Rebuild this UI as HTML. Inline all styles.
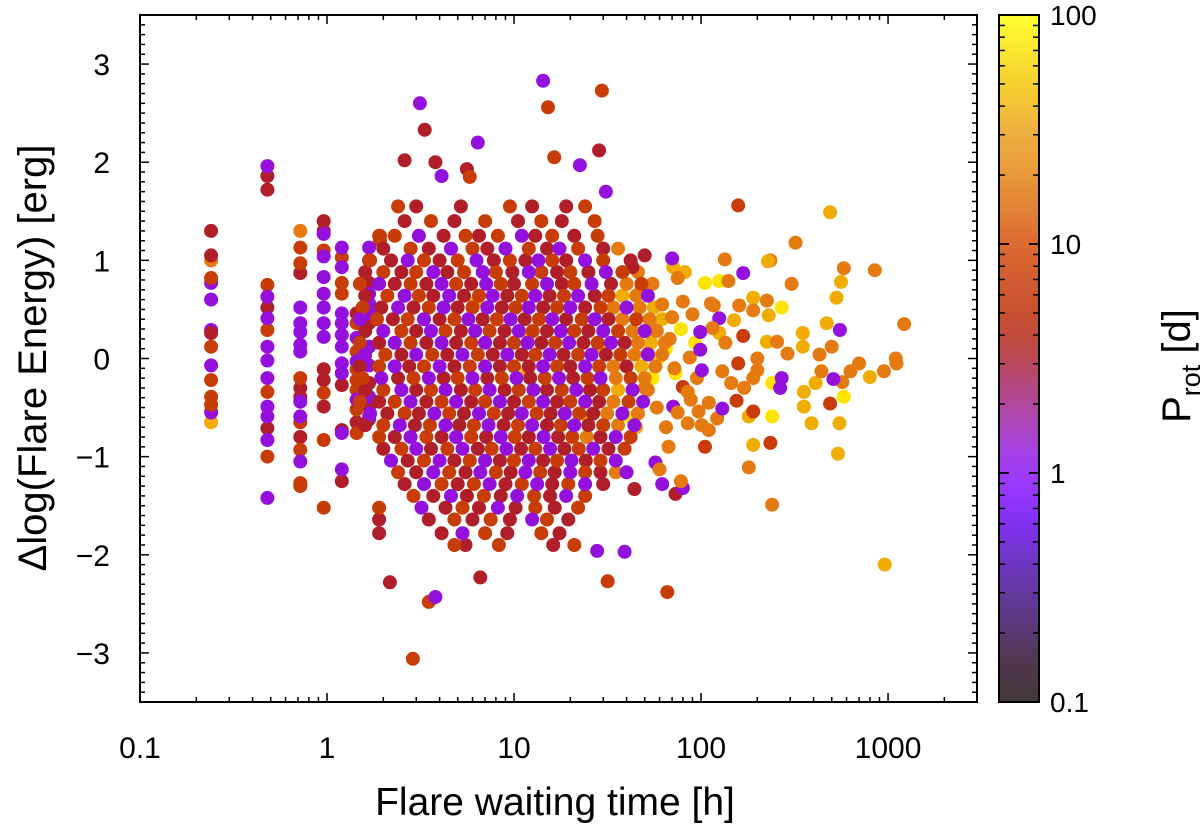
<!DOCTYPE html>
<html><head><meta charset="utf-8"><title>Flare waiting time vs Δlog energy</title>
<style>
html,body{margin:0;padding:0;background:#fff;}
svg{display:block;font-family:"Liberation Sans",sans-serif;}
</style></head>
<body>
<svg id="chart" width="1200" height="830" viewBox="0 0 1200 830" xmlns="http://www.w3.org/2000/svg">
<defs>
<linearGradient id="cbgrad" x1="0" y1="1" x2="0" y2="0">
<stop offset="0" stop-color="#443838"/>
<stop offset="0.06" stop-color="#503850"/>
<stop offset="0.18" stop-color="#6838b0"/>
<stop offset="0.26" stop-color="#8030f0"/>
<stop offset="0.31" stop-color="#9838ff"/>
<stop offset="0.36" stop-color="#a440e8"/>
<stop offset="0.43" stop-color="#b048a0"/>
<stop offset="0.49" stop-color="#b84860"/>
<stop offset="0.53" stop-color="#c04c3c"/>
<stop offset="0.57" stop-color="#c85030"/>
<stop offset="0.667" stop-color="#dc6a32"/>
<stop offset="0.77" stop-color="#e89a3a"/>
<stop offset="0.83" stop-color="#eeb040"/>
<stop offset="0.9" stop-color="#f5d030"/>
<stop offset="1" stop-color="#ffff30"/>
</linearGradient>
</defs>
<g id="points"></g>
<g id="axes"></g>
<rect x="999" y="15" width="40" height="687" fill="url(#cbgrad)" stroke="#000" stroke-width="2"/>
<g id="cbaxis"></g>
<text x="555" y="815" font-size="39" text-anchor="middle">Flare waiting time [h]</text>
<text transform="translate(46,358) rotate(-90)" font-size="40" text-anchor="middle">Δlog(Flare Energy) [erg]</text>
<text transform="translate(1190,366) rotate(-90)" font-size="40" text-anchor="middle">P<tspan font-size="27" dy="10">rot</tspan><tspan dy="-10"> [d]</tspan></text>
</svg>
<script>
// ---- data (x = waiting time [h], y = Δlog E) ----
const xTicks = [0.1, 1, 10, 100, 1000];
const xTickLabels = ["0.1", "1", "10", "100", "1000"];
const yTicks = [-3, -2, -1, 0, 1, 2, 3];
const yTickLabels = ["\u22123", "\u22122", "\u22121", "0", "1", "2", "3"];
const cbTicks = [0.1, 1, 10, 100];
const cbTickLabels = ["0.1", "1", "10", "100"];
const classPeriods = [0.8, 3, 6, 15, 35, 80];

const purplePts = [[0.24,0.77],[0.24,0.6],[0.24,0.29],[0.24,-0.07],[0.24,-0.55],
[0.48,1.96],[0.48,0.63],[0.48,0.41],[0.48,0.12],[0.48,-0.02],[0.48,-0.2],[0.48,-0.49],[0.48,-0.59],[0.48,-0.83],[0.48,-1.42],
[0.72,0.52],[0.72,0.36],[0.72,0.27],[0.72,0.14],[0.72,0.07],[0.72,-0.44],[0.72,-0.59],[0.72,-1.05],
[0.96,1.27],[0.96,1.04],[0.96,0.83],[0.96,0.66],[0.96,0.52],[0.96,0.36],[0.96,0.22],
[1.2,1.13],[1.2,0.93],[1.2,0.46],[1.2,0.36],[1.2,0.24],[1.2,0.12],[1.2,-0.05],[1.2,-0.15],[1.2,-0.76],[1.2,-1.13],
[1.44,0.21],[1.44,-0.03],[1.44,-0.42],
[1.68,1.13],[1.68,0.66],[1.68,0.56],[1.68,0.46],[1.68,0.12],[1.68,-0.07],[1.68,-0.39],[1.68,-0.59],
[3.14,2.6],[4.1,1.86],[6.4,2.2],[14.3,2.83],[22.5,1.97],[31,1.7],[3.8,-2.43],[27.8,-1.96],[168,0.87],[553,0.29],[125,0.41],[510,-0.21],[270,-0.2],[265,-0.3],[130,-0.51],[70,1.02],[99,0.27],[99,0.09],[101,-0.12],[71,-0.49],[80,-1.32],[62,-1.28],[57,-1.06],[40,-1.16],[39,-1.97],
[3.1,1.25],[11,1.25],[4.6,1.12],[9.0,1.12],[17.5,1.12],[2.7,1.0],[6.3,1.0],[13.5,1.0],[24,1.0],
[3.7,0.88],[6.8,0.88],[12,0.88],[31,0.88],[1.9,0.76],[4.1,0.76],[7.1,0.76],[15,0.76],[26,0.76],
[2.6,0.64],[4.5,0.64],[7.7,0.64],[13,0.64],[22,0.64],[52,0.64],[2.4,0.52],[4.2,0.52],[7.2,0.52],[12,0.52],[20,0.52],[40,0.52],
[1.5,0.4],[3.3,0.4],[5.7,0.4],[9.6,0.4],[16,0.4],[27,0.4],[2.0,0.28],[3.6,0.28],[6.2,0.28],[10.6,0.28],[17.8,0.28],[30,0.28],[50,0.28],
[2.3,0.16],[4.1,0.16],[7.0,0.16],[11.8,0.16],[19.7,0.16],[33,0.16],[1.6,0.04],[3.0,0.04],[5.3,0.04],[9.2,0.04],[15.5,0.04],[26,0.04],[52,0.04],
[2.3,-0.08],[4.0,-0.08],[7.0,-0.08],[14.3,-0.08],[24,-0.08],[1.95,-0.2],[3.5,-0.2],[6.0,-0.2],[10.3,-0.2],[17.4,-0.2],[29,-0.2],
[2.5,-0.32],[4.3,-0.32],[7.4,-0.32],[12.7,-0.32],[21.5,-0.32],[43,-0.32],[2.8,-0.44],[4.9,-0.44],[8.4,-0.44],[14.3,-0.44],[24,-0.44],[49,-0.44],
[1.7,-0.56],[3.75,-0.56],[6.5,-0.56],[11,-0.56],[18.7,-0.56],[38,-0.56],[2.45,-0.68],[4.3,-0.68],[7.3,-0.68],[12.5,-0.68],[21,-0.68],[44,-0.68],
[2.8,-0.8],[4.9,-0.8],[8.5,-0.8],[14.4,-0.8],[35,-0.8],[3.0,-0.92],[5.3,-0.92],[9.1,-0.92],[15.6,-0.92],[26.5,-0.92],
[2.2,-1.04],[4.0,-1.04],[7.0,-1.04],[12,-1.04],[20.3,-1.04],[35,-1.04],[3.7,-1.16],[6.6,-1.16],[11.5,-1.16],[20,-1.16],
[3.3,-1.28],[7.4,-1.28],[13.3,-1.28],[24,-1.28],[4.6,-1.4],[10.4,-1.4],[19,-1.4],[3.2,-1.52],[8.2,-1.52],[12.5,-1.64],[5.3,-1.78]];

const crimsonPts = [[0.24,1.3],[0.24,1.05],[0.24,0.26],[0.48,1.86],[0.48,1.72],[0.48,0.52],[0.48,-0.71],[0.72,0.87],[0.72,-0.3],[0.72,-0.39],[0.72,-0.8],
[0.96,1.4],[0.96,1.3],[0.96,-0.11],[0.96,-0.22],[0.96,-0.49],[1.2,-0.27],[1.2,-0.73],[1.2,-1.25],[1.44,0.46],[1.44,-0.65],
[1.68,1.0],[1.68,0.77],[1.68,0.36],[1.68,-0.25],[1.68,-0.49],[1.68,-0.62],
[2.17,-2.28],[6.6,-2.23],[3.33,2.33],[2.6,2.02],[3.8,2.0],[5.6,1.93],[28.5,2.12],[73,-1.38],[44,-1.33],[50,1.05],[43,0.93],
[3.0,1.55],[5.2,1.55],[12.5,1.55],[19,1.55],[2.6,1.4],[4.8,1.4],[10.5,1.4],[18,1.4],[4.2,1.25],[6.5,1.25],[13,1.25],[21,1.25],
[2.0,1.12],[3.5,1.12],[7.2,1.12],[15,1.12],[30,1.12],[2.2,1.0],[4.0,1.0],[7.8,1.0],[11.5,1.0],[19,1.0],[42,1.0],
[1.6,0.88],[2.5,0.88],[4.4,0.88],[9.8,0.88],[17,0.88],[25,0.88],[2.3,0.76],[3.4,0.76],[5.9,0.76],[10,0.76],[18,0.76],[33,0.76],
[1.6,0.64],[3.7,0.64],[5.4,0.64],[9.2,0.64],[15.5,0.64],[27,0.64],[1.95,0.52],[2.9,0.52],[5.0,0.52],[8.6,0.52],[14.3,0.52],[24,0.52],
[2.25,0.4],[4.0,0.4],[6.8,0.4],[11.4,0.4],[19,0.4],[32,0.4],[1.6,0.28],[3.0,0.28],[5.2,0.28],[8.9,0.28],[15,0.28],[25,0.28],
[1.9,0.16],[3.4,0.16],[4.9,0.16],[8.4,0.16],[14,0.16],[23.5,0.16],[39,0.16],[2.5,0.04],[4.4,0.04],[7.7,0.04],[11,0.04],[18.4,0.04],[31,0.04],
[1.5,-0.08],[2.75,-0.08],[4.8,-0.08],[8.4,-0.08],[12,-0.08],[20,-0.08],[40,-0.08],[2.4,-0.2],[4.2,-0.2],[7.2,-0.2],[12.2,-0.2],[20.7,-0.2],
[1.6,-0.32],[3.0,-0.32],[5.2,-0.32],[8.9,-0.32],[15,-0.32],[25.5,-0.32],[1.9,-0.44],[3.4,-0.44],[5.9,-0.44],[10,-0.44],[17,-0.44],[28.5,-0.44],
[2.1,-0.56],[3.1,-0.56],[5.4,-0.56],[9.3,-0.56],[15.7,-0.56],[26.5,-0.56],[1.6,-0.68],[2.95,-0.68],[5.1,-0.68],[8.8,-0.68],[15,-0.68],[25,-0.68],
[2.3,-0.8],[4.1,-0.8],[7.1,-0.8],[12,-0.8],[17.2,-0.8],[29,-0.8],[2.0,-0.92],[3.6,-0.92],[6.4,-0.92],[10.9,-0.92],[18.6,-0.92],[32,-0.92],
[2.7,-1.04],[4.8,-1.04],[8.4,-1.04],[14.3,-1.04],[24.2,-1.04],[3.0,-1.16],[5.5,-1.16],[9.6,-1.16],[16.5,-1.16],[29,-1.16],
[2.6,-1.28],[5.0,-1.28],[9.0,-1.28],[16,-1.28],[30,-1.28],[3.7,-1.4],[5.6,-1.4],[8.5,-1.4],[15.6,-1.4],[4.3,-1.52],[6.5,-1.52],[10.2,-1.52],[16.5,-1.52],
[1.9,-1.64],[3.5,-1.64],[6.0,-1.64],[9.5,-1.64],[19.5,-1.64],[1.9,-1.78],[4.1,-1.78],[9.2,-1.78],[17.5,-1.78],[5.5,-1.9],[16.2,-1.9]];

const redPts = [[0.24,0.82],[0.24,0.12],[0.24,-0.22],[0.24,-0.39],[0.24,-0.47],[0.48,0.75],[0.48,0.29],[0.48,-0.34],[0.48,-1.0],
[0.72,1.13],[0.72,0.97],[0.72,-0.2],[0.72,-0.65],[0.72,-0.93],[0.72,-1.27],[0.72,-1.3],[0.96,1.1],[0.96,-0.35],[0.96,-0.83],[0.96,-1.52],
[1.2,1.03],[1.2,0.77],[1.2,0.66],[1.44,0.36],[1.44,0.07],[1.44,-0.11],[1.44,-0.22],[1.44,-0.32],[1.44,-0.52],[1.44,-0.76],[1.92,1.2],[1.92,1.25],
[2.88,-3.06],[3.5,-2.48],[31.7,-2.27],[66,-2.38],[15.2,2.56],[29.5,2.73],[16.4,2.05],[5.8,1.85],[158,1.56],[168,0.23],[490,-0.46],[158,-0.05],[155,-0.43],[190,-0.54],[235,-0.86],[105,-0.9],[80,-0.29],
[2.4,1.55],[9.5,1.55],[24,1.55],[3.6,1.4],[7.0,1.4],[14,1.4],[27,1.4],[1.9,1.25],[2.3,1.25],[5.5,1.25],[8.2,1.25],[16,1.25],[28,1.25],
[2.8,1.12],[6.0,1.12],[12,1.12],[22,1.12],[1.7,1.0],[3.3,1.0],[5.0,1.0],[9.5,1.0],[16,1.0],[30,1.0],
[2.0,0.88],[3.0,0.88],[5.4,0.88],[8.0,0.88],[14,0.88],[20,0.88],[38,0.88],[1.5,0.76],[2.8,0.76],[4.9,0.76],[8.5,0.76],[12.5,0.76],[21,0.76],[48,0.76],
[2.1,0.64],[3.1,0.64],[6.5,0.64],[11,0.64],[18.5,0.64],[32,0.64],[1.55,0.52],[3.5,0.52],[6.0,0.52],[10.2,0.52],[17,0.52],[29,0.52],
[1.85,0.4],[2.7,0.4],[4.8,0.4],[8.1,0.4],[13.6,0.4],[23,0.4],[45,0.4],[2.5,0.28],[4.3,0.28],[7.4,0.28],[12.6,0.28],[21,0.28],[36,0.28],
[1.5,0.16],[2.8,0.16],[5.9,0.16],[10,0.16],[16.6,0.16],[28,0.16],[2.05,0.04],[3.65,0.04],[6.4,0.04],[13,0.04],[22,0.04],[37,0.04],
[1.9,-0.08],[3.3,-0.08],[5.8,-0.08],[10,-0.08],[17,-0.08],[28.5,-0.08],[1.55,-0.2],[2.9,-0.2],[5.0,-0.2],[8.6,-0.2],[14.6,-0.2],[24.7,-0.2],[42,-0.2],
[2.0,-0.32],[3.6,-0.32],[6.2,-0.32],[10.6,-0.32],[18,-0.32],[30,-0.32],[1.5,-0.44],[2.3,-0.44],[4.1,-0.44],[7.0,-0.44],[12,-0.44],[20,-0.44],[41,-0.44],
[2.6,-0.56],[4.5,-0.56],[7.8,-0.56],[13.2,-0.56],[22.3,-0.56],[2.0,-0.68],[3.55,-0.68],[6.1,-0.68],[10.5,-0.68],[17.8,-0.68],[30,-0.68],
[1.9,-0.8],[3.4,-0.8],[5.9,-0.8],[10.1,-0.8],[20.5,-0.8],[42,-0.8],[2.5,-0.92],[4.4,-0.92],[7.6,-0.92],[13,-0.92],[22.2,-0.92],[39,-0.92],
[3.3,-1.04],[5.8,-1.04],[10,-1.04],[17,-1.04],[29,-1.04],[2.4,-1.16],[4.5,-1.16],[8.0,-1.16],[13.8,-1.16],[24,-1.16],
[4.1,-1.28],[6.1,-1.28],[11,-1.28],[19.5,-1.28],[2.9,-1.4],[6.9,-1.4],[12.8,-1.4],[24,-1.4],[1.9,-1.52],[5.3,-1.52],[13,-1.52],[22,-1.52],
[4.8,-1.64],[7.5,-1.64],[15,-1.64],[7.0,-1.78],[14,-1.78],[4.8,-1.9],[8.3,-1.9],[21,-1.9]];

const orangePts = [[0.24,1.0],[0.72,1.3],[36,1.12],[46,0.88],[40,0.76],[55,0.76],[45,0.64],[34,0.52],[47,0.52],[38,0.4],[53,0.4],[43,0.28],[58,0.28],
[46,0.16],[64,0.16],[44,0.04],[62,0.04],[34,-0.08],[57,-0.08],[35,-0.2],[50,-0.2],[52,-0.32],[34,-0.44],[31.5,-0.56],[46,-0.56],[36,-0.68],[24.5,-0.8],[35,-1.16],
[134,1.01],[235,1.0],[140,0.79],[305,0.76],[580,0.92],[850,0.9],[225,0.59],[160,0.54],[190,0.49],[1220,0.35],[500,0.12],[255,0.17],[290,0.05],[430,0.04],
[440,-0.13],[630,-0.13],[950,-0.13],[1110,-0.05],[570,-0.24],[200,0],[200,-0.12],[190,-0.2],[170,-0.3],[122,-0.61],[110,-0.45],[101,-0.68],[110,-0.73],[97,-0.54],
[180,-1.11],[240,-1.49],[130,-0.13],[145,-0.25],[135,0.16],[115,0.31],[117,0.54],[113,0.56],[80,0.58],[75,0.82],[87,0.01],[95,-0.2],[85,-0.34],[88,-0.42],
[75,-0.55],[85,-0.66],[67,-0.9],[60,-1.13],[78,-1.25],[320,1.18],[1100,0],[700,-0.05],
[55,0.3],[62,0.55],[68,0.2],[50,-0.3],[58,-0.5],[65,-0.7],[48,0.7],[70,0.42],[72,-0.1],[90,0.45],[52,0.05]];

const goldPts = [[0.24,-0.65],[38,0.64],[56,0.52],[62,0.4],[54,0.16],[48,-0.08],[36,-0.32],[490,1.49],[560,0.78],[530,0.62],[190,0.62],[230,0.44],
[150,0.39],[470,0.36],[350,0.26],[350,0.12],[225,0.17],[800,-0.19],[410,-0.25],[355,-0.34],[355,-0.49],[390,-0.66],[180,-0.59],[190,-0.88],
[540,-0.97],[960,-2.1],[125,0.26],[82,0.88],[71,0.93],[550,-0.66],[228,0.99],[6.2,0.57],[12,0.24],[11.8,-0.12],[25,-0.6],[30,0.1],[45,-0.7]];

const yellowPts = [[0.24,-0.52],[105,0.77],[125,0.79],[270,0.52],[240,-0.25],[240,-0.59],[580,-0.39],[93,0.16],[73,-0.15],[59,0],
[42,-0.6],[55,-0.2],[65,0.1],[78,0.3]];

// ---- scales ----
const X0 = 140, X1 = 977, Y0 = 15, Y1 = 702;
const xMin = 0.1, xMax = 2990, yMin = -3.5, yMax = 3.5;
const pMin = 0.1, pMax = 100;
function xScale(v){ return X0 + (Math.log10(v) - Math.log10(xMin)) / (Math.log10(xMax) - Math.log10(xMin)) * (X1 - X0); }
function yScale(v){ return Y1 - (v - yMin) / (yMax - yMin) * (Y1 - Y0); }
function cbScale(v){ return Y1 - (Math.log10(v) - Math.log10(pMin)) / (Math.log10(pMax) - Math.log10(pMin)) * (Y1 - Y0); }

const palStops = [[0.1,[64,48,48]],[0.4,[120,16,240]],[0.8,[148,16,220]],[1.6,[168,24,130]],[3,[176,30,42]],[6,[200,60,8]],[15,[228,122,16]],[35,[240,172,0]],[80,[255,228,0]],[100,[255,240,20]]];
function palette(p){
  const lp = Math.log10(p);
  for (let i = 0; i < palStops.length - 1; i++){
    const a = Math.log10(palStops[i][0]), b = Math.log10(palStops[i+1][0]);
    if (lp <= b || i === palStops.length - 2){
      const t = Math.max(0, Math.min(1, (lp - a) / (b - a)));
      const c = palStops[i][1].map((v, k) => Math.round(v + (palStops[i+1][1][k] - v) * t));
      return 'rgb(' + c.join(',') + ')';
    }
  }
}

const NS = 'http://www.w3.org/2000/svg';
function mk(tag, attrs, parent){
  const e = document.createElementNS(NS, tag);
  for (const k in attrs) e.setAttribute(k, attrs[k]);
  parent.appendChild(e);
  return e;
}

// ---- points (interleaved draw order) ----
const gP = document.getElementById('points');
const groups = [purplePts, crimsonPts, redPts, orangePts, goldPts, yellowPts];
const maxLen = Math.max(...groups.map(g => g.length));
for (let i = 0; i < maxLen; i++){
  for (let g = 0; g < groups.length; g++){
    const pt = groups[g][i];
    if (!pt) continue;
    const c = mk('circle', {cx: xScale(pt[0]).toFixed(1), cy: yScale(pt[1]).toFixed(1), r: 7, fill: palette(classPeriods[g])}, gP);
    
    
  }
}

// ---- axes ----
const gA = document.getElementById('axes');
const frame = mk('rect', {x: X0, y: Y0, width: X1 - X0, height: Y1 - Y0, fill: 'none', stroke: '#000', 'stroke-width': 2}, gA);


function line(x1, y1, x2, y2, parent){ mk('line', {x1, y1, x2, y2, stroke: '#000', 'stroke-width': 1.5}, parent); }
for (let d = -1; d <= 3; d++){
  for (let m = 1; m <= 9; m++){
    const v = m * Math.pow(10, d);
    if (v > xMax) continue;
    const x = xScale(v), L = (m === 1) ? 9 : 5;
    line(x, Y1, x, Y1 - L, gA);
    line(x, Y0, x, Y0 + L, gA);
  }
}
for (let k = -35; k <= 35; k++){
  const v = k / 10, y = yScale(v), L = (k % 10 === 0) ? 9 : 5;
  line(X0, y, X0 + L, y, gA);
  line(X1, y, X1 - L, y, gA);
}
xTicks.forEach((v, i) => {
  const t = mk('text', {x: xScale(v), y: 758, 'font-size': 30, 'text-anchor': 'middle'}, gA);
  t.textContent = xTickLabels[i];
  
  
});
yTicks.forEach((v, i) => {
  const t = mk('text', {x: 110, y: yScale(v) + 11, 'font-size': 30, 'text-anchor': 'end'}, gA);
  t.textContent = yTickLabels[i];
  
  
});

// ---- colorbar axis ----
const gC = document.getElementById('cbaxis');
for (let d = -1; d <= 1; d++){
  for (let m = 1; m <= 10; m++){
    const v = m * Math.pow(10, d);
    if (v > pMax) continue;
    const y = cbScale(v), L = (m === 1 || m === 10) ? 10 : 6;
    line(999, y, 999 + L, y, gC);
    line(1039, y, 1039 - L, y, gC);
  }
}
cbTicks.forEach((v, i) => {
  const t = mk('text', {x: 1050, y: cbScale(v) + 10, 'font-size': 28, 'text-anchor': 'start'}, gC);
  t.textContent = cbTickLabels[i];
  
  
});
</script>
</body></html>
